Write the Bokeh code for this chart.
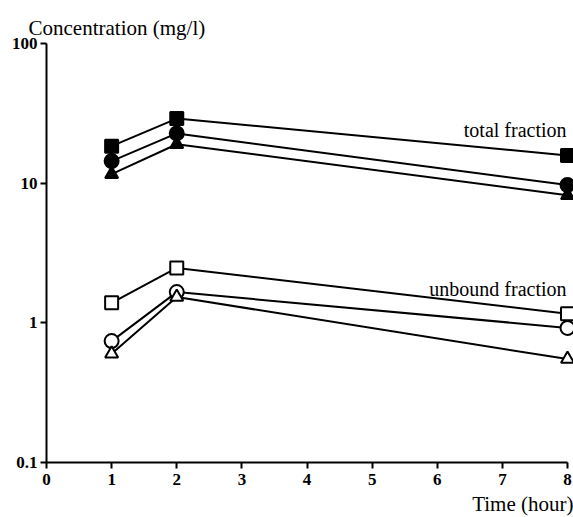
from bokeh.plotting import figure
from bokeh.models import Range1d, FixedTicker, Label, BasicTickFormatter, Title
from bokeh.embed import file_html
from bokeh.resources import INLINE

time_h = [1, 2, 8]
total_square = [18.4, 29.0, 15.8]
total_circle = [14.4, 22.7, 9.7]
total_triangle = [11.6, 19.0, 8.2]
unbound_square = [1.39, 2.47, 1.16]
unbound_circle = [0.74, 1.66, 0.92]
unbound_triangle = [0.60, 1.53, 0.55]
y_ticks = [0.1, 1, 10, 100]
x_ticks = [0, 1, 2, 3, 4, 5, 6, 7, 8]
total_label_y = 22.7
unbound_label_y = 1.66

FONT = "Liberation Serif"

p = figure(width=573, height=517, y_axis_type="log",
           x_range=Range1d(0, 8.092), y_range=Range1d(0.1, 100),
           output_backend="svg", toolbar_location=None,
           min_border_left=46, min_border_top=43, min_border_right=0,
           min_border_bottom=53)
p.outline_line_color = None
p.xgrid.grid_line_color = None
p.ygrid.grid_line_color = None

for ax in (p.xaxis[0], p.yaxis[0]):
    ax.axis_line_width = 2
    ax.axis_line_color = "black"
    ax.major_tick_line_width = 2
    ax.major_tick_line_color = "black"
    ax.major_tick_out = 6
    ax.major_tick_in = 0
    ax.minor_tick_line_color = None
    ax.major_label_text_font = FONT
    ax.major_label_text_font_size = "17px"
    ax.major_label_text_font_style = "bold"
    ax.major_label_text_color = "black"

p.xaxis.ticker = FixedTicker(ticks=x_ticks)
p.xaxis.bounds = (0, 8)
p.xaxis.major_label_standoff = 5
p.yaxis.ticker = FixedTicker(ticks=y_ticks)
p.yaxis.formatter = BasicTickFormatter()
p.yaxis.major_label_overrides = {t: str(t) for t in y_ticks}
p.yaxis.major_label_standoff = 3

series = [
    (total_square, "square", "black"),
    (total_circle, "circle", "black"),
    (total_triangle, "triangle", "black"),
    (unbound_square, "square", "white"),
    (unbound_circle, "circle", "white"),
    (unbound_triangle, "triangle", "white"),
]
for ys, mk, fill in series:
    p.line(time_h, ys, line_color="black", line_width=2)
for ys, mk, fill in series:
    p.scatter(time_h, ys, marker=mk, size=13 if mk != "circle" else 14,
              fill_color=fill, line_color="black", line_width=2)

p.add_layout(Label(x=8, y=total_label_y, text="total fraction",
                   text_align="right", text_baseline="alphabetic",
                   text_font=FONT, text_font_size="20px", text_color="black",
                   x_offset=-1, y_offset=3))
p.add_layout(Label(x=8, y=unbound_label_y, text="unbound fraction",
                   text_align="right", text_baseline="alphabetic",
                   text_font=FONT, text_font_size="20px", text_color="black",
                   x_offset=-1, y_offset=3))

p.title = Title(text="Concentration (mg/l)", align="left", offset=-18,
                text_font=FONT, text_font_size="21px", text_font_style="normal",
                text_color="black", standoff=8)
p.add_layout(Title(text="Time (hour)", align="right", offset=0,
                   text_font=FONT, text_font_size="21px",
                   text_font_style="normal", text_color="black", standoff=4),
             "below")

open("out.html", "w").write(file_html(p, INLINE))
